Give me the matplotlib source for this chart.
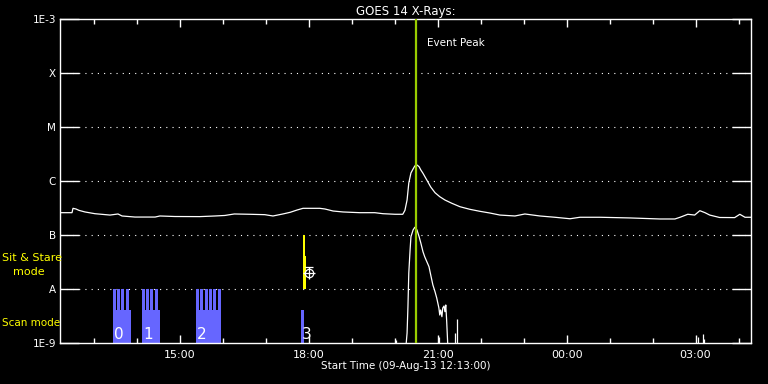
import matplotlib
matplotlib.use('Agg')
import matplotlib.pyplot as plt
import numpy as np
from matplotlib.ticker import FixedLocator, MultipleLocator, FuncFormatter, NullFormatter

# ---------------- data (hours since 09-Aug-13 00:00, flux W/m^2) ----------------
long_t = [12.217, 12.496, 12.519, 12.589, 12.658, 12.798, 13.03, 13.38, 13.566, 13.66, 13.96,
          14.43, 14.54, 14.89, 15.47, 15.82, 16.05, 16.27, 16.63, 16.98, 17.17, 17.40, 17.57,
          17.73, 17.87, 18.26, 18.38, 18.57, 18.80, 19.19, 19.54, 19.73, 20.01, 20.19, 20.24,
          20.29, 20.33, 20.38, 20.43, 20.47, 20.52, 20.57, 20.61, 20.66, 20.75, 20.84, 20.94,
          21.05, 21.17, 21.33, 21.52, 21.75, 21.98, 22.22, 22.45, 22.80, 23.03, 23.38, 23.73,
          24.08, 24.31, 24.78, 25.47, 26.17, 26.52, 26.64, 26.82, 26.98, 27.10, 27.22, 27.33,
          27.56, 27.91, 28.03, 28.15, 28.29]
long_f = [2.59e-7, 2.59e-7, 3.12e-7, 3.03e-7, 2.86e-7, 2.67e-7, 2.48e-7, 2.34e-7, 2.45e-7, 2.25e-7, 2.15e-7,
          2.15e-7, 2.25e-7, 2.20e-7, 2.19e-7, 2.25e-7, 2.30e-7, 2.45e-7, 2.42e-7, 2.38e-7, 2.25e-7, 2.45e-7, 2.63e-7,
          2.90e-7, 3.12e-7, 3.12e-7, 3.03e-7, 2.78e-7, 2.67e-7, 2.59e-7, 2.59e-7, 2.48e-7, 2.42e-7, 2.42e-7, 2.86e-7,
          4.45e-7, 9.18e-7, 1.41e-6, 1.67e-6, 1.90e-6, 1.98e-6, 1.84e-6, 1.60e-6, 1.39e-6, 1.04e-6, 7.74e-7, 6.07e-7,
          5.12e-7, 4.45e-7, 3.87e-7, 3.34e-7, 2.99e-7, 2.75e-7, 2.55e-7, 2.34e-7, 2.25e-7, 2.45e-7, 2.25e-7, 2.13e-7,
          2.00e-7, 2.13e-7, 2.13e-7, 2.07e-7, 1.98e-7, 1.98e-7, 2.13e-7, 2.42e-7, 2.34e-7, 2.82e-7, 2.59e-7, 2.34e-7,
          2.11e-7, 2.10e-7, 2.42e-7, 2.13e-7, 2.13e-7]

short_t = [20.26, 20.29, 20.31, 20.33, 20.36, 20.38, 20.43, 20.47, 20.52, 20.57, 20.61, 20.66,
           20.70, 20.75, 20.80, 20.84, 20.89, 20.94, 20.98, 21.03, 21.05, 21.07, 21.10, 21.12,
           21.15, 21.17, 21.19, 21.21, 21.24]
short_f = [8e-10, 1.53e-9, 4.64e-9, 1.98e-8, 5.27e-8, 9.3e-8, 1.24e-7, 1.39e-7, 1.24e-7, 9.3e-8, 7.1e-8, 4.9e-8,
           3.96e-8, 3.2e-8, 2.59e-8, 1.82e-8, 1.19e-8, 8.9e-9, 6.8e-9, 4.45e-9, 3.30e-9, 4.09e-9, 3.07e-9, 4.45e-9,
           4.84e-9, 3.80e-9, 5.06e-9, 2.67e-9, 8e-10]

spike_t = [20.03, 21.04, 21.40, 21.44, 27.06, 27.18, 27.20]
spike_f = [1.14e-9, 1.31e-9, 1.53e-9, 2.78e-9, 1.31e-9, 1.47e-9, 1.19e-9]

# scan-mode rasters
scan_labels = ['0', '1', '2', '3']
scan_start = [13.449, 14.124, 15.379, 17.821]
scan_end = [13.868, 14.543, 15.961, 17.891]
raster_starts = [13.449, 13.542, 13.642, 13.745,
                 14.124, 14.217, 14.317, 14.419,
                 15.379, 15.479, 15.582, 15.682, 15.782, 15.884]
raster_width = 0.068
scan_low = 4.1e-9
scan_high = 1e-8

# sit & stare
ss_time = 17.868
ss_top = 1e-7
ss_mid = 4.1e-8
ss_base = 1e-8
ss_mark_t = 18.014
ss_mark_f = 1.95e-8

event_peak = 20.496

y_ticks = [1e-9, 1e-8, 1e-7, 1e-6, 1e-5, 1e-4, 1e-3]
y_labels = ['1E-9', 'A', 'B', 'C', 'M', 'X', '1E-3']
x_start = 12.2167
x_end = 28.29

# ---------------- figure ----------------
W, H = 768, 384
fig = plt.figure(figsize=(W / 100, H / 100), dpi=100, facecolor='black')
ax = fig.add_axes([60 / W, 1 - 343 / H, (751 - 60) / W, (343 - 19) / H])
ax.set_facecolor('black')
ax.set_yscale('log')
ax.set_xlim(x_start, x_end)
ax.set_ylim(1e-9, 1e-3)

for s in ax.spines.values():
    s.set_color('white')
    s.set_linewidth(1.0)

# grid lines at decades
for v in y_ticks[1:-1]:
    ax.axhline(v, color='white', lw=0.8, linestyle=(0, (1, 4.6)), zorder=1)

# scan mode bars
blue = '#6666ff'
for s0, s1 in zip(scan_start, scan_end):
    ax.bar(s0, scan_low - 1e-9, width=s1 - s0, bottom=1e-9, align='edge', color=blue, lw=0, zorder=2)
for r in raster_starts:
    ax.bar(r, scan_high - 1e-9, width=raster_width, bottom=1e-9, align='edge', color=blue, lw=0, zorder=2)
for lab, s0 in zip(scan_labels, scan_start):
    ax.text(s0 + 0.02, 1.19e-9, lab, color='white', fontsize=11, va='baseline', ha='left', zorder=5)

# sit & stare
ax.bar(ss_time, ss_top - ss_base, width=0.047, bottom=ss_base, align='edge', color='#ffff00', lw=0, zorder=3)
ax.bar(ss_time, ss_mid - ss_base, width=0.07, bottom=ss_base, align='edge', color='#ffff00', lw=0, zorder=3)
ax.plot([ss_mark_t], [ss_mark_f], marker='o', ms=6, mfc='none', mec='white', mew=0.9, zorder=4)
ax.plot([ss_mark_t], [ss_mark_f], marker='+', ms=8, mec='white', mew=0.9, zorder=4)
ax.plot([ss_mark_t], [ss_mark_f * 1.33], marker='_', ms=6, mec='white', mew=0.9, zorder=4)

# X-ray curves
ax.plot(long_t, long_f, color='white', lw=0.9, zorder=4)
ax.plot(short_t, short_f, color='white', lw=0.9, zorder=4)
ax.vlines(spike_t, 1e-9, spike_f, color='white', lw=0.9, zorder=4)

# event peak
ax.axvline(event_peak, color='#99cc00', lw=1.6, zorder=6)
ax.text(event_peak + 0.256, 3.6e-4, 'Event Peak', color='white', fontsize=7.5, va='center', ha='left')

# ticks
ax.yaxis.set_major_locator(FixedLocator(y_ticks))
ax.yaxis.set_major_formatter(FuncFormatter(lambda v, p: y_labels[y_ticks.index(v)] if v in y_ticks else ''))
ax.yaxis.set_minor_locator(FixedLocator([]))
ax.tick_params(axis='y', which='major', direction='in', length=14, width=1, colors='white',
               left=True, right=True, labelsize=7.5, pad=3)
ax.xaxis.set_major_locator(MultipleLocator(3))
ax.xaxis.set_minor_locator(MultipleLocator(1))
ax.xaxis.set_major_formatter(FuncFormatter(lambda v, p: '%02d:00' % (int(round(v)) % 24)))
ax.tick_params(axis='x', which='major', direction='in', length=6, width=1, colors='white',
               top=True, bottom=True, labelsize=8, pad=5)
ax.tick_params(axis='x', which='minor', direction='in', length=3.5, width=1, colors='white',
               top=True, bottom=True)

ax.set_title('GOES 14 X-Rays:', color='white', fontsize=8.5, pad=3)
ax.set_xlabel('Start Time (09-Aug-13 12:13:00)', color='white', fontsize=7.5, labelpad=1)

# left side mode labels
px = lambda x, y: (x / W, 1 - y / H)
fig.text(*px(2, 258), 'Sit & Stare', color='#ffff00', fontsize=8, va='center', ha='left')
fig.text(*px(13, 272), 'mode', color='#ffff00', fontsize=8, va='center', ha='left')
fig.text(*px(2, 323), 'Scan mode', color='#ffff00', fontsize=7.5, va='center', ha='left')

fig.savefig('out.png', dpi=100, facecolor='black')
